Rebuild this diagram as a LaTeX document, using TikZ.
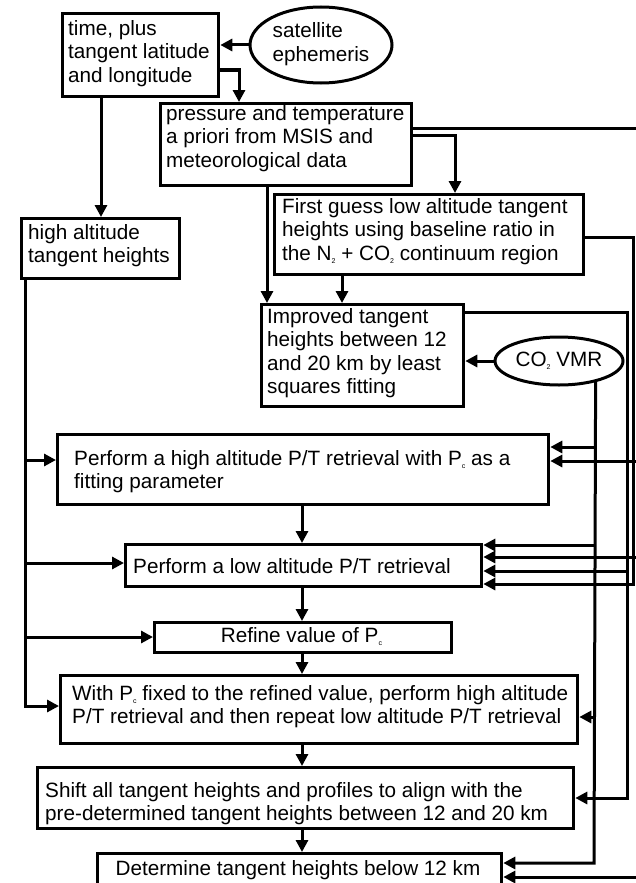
\documentclass[tikz,border=0pt]{standalone}
\usepackage{fontspec}
\setmainfont{Liberation Sans}
\usetikzlibrary{arrows.meta,shapes.geometric}
\newcommand{\flowfont}{\fontsize{20.7}{23.5}\selectfont}
\newcommand{\lowsub}[1]{\raisebox{-3pt}{\fontsize{7}{7}\selectfont #1}}
\newcommand{\lines}[1]{\begin{tabular}{@{}l@{}}#1\end{tabular}}
\tikzset{
  flowbox/.style={draw, line width=3.3pt, inner sep=0pt, anchor=north west},
  oval/.style={draw, ellipse, line width=3pt, inner sep=0pt, font=\flowfont},
  txt/.style={inner sep=0pt, font=\flowfont, anchor=north west},
  ctxt/.style={inner sep=0pt, font=\flowfont, anchor=north},
  conn/.style={line width=3pt},
  arr/.style={conn, -{Triangle[length=12pt,width=12pt]}},
}
\begin{document}
\begin{tikzpicture}[x=1pt,y=-1pt]
\path[fill=white] (0,0) rectangle (636,883);
\useasboundingbox (0,0) rectangle (636,883);

% ---------- boxes ----------
\node[flowbox, minimum width=156pt, minimum height=83pt]  (B1)  at (61,12)  {};
\node[flowbox, minimum width=251pt, minimum height=82pt]  (B2)  at (159,102) {};
\node[flowbox, minimum width=309pt, minimum height=80pt]  (B3)  at (273,193) {};
\node[flowbox, minimum width=158pt, minimum height=60pt]  (B4)  at (20,217)  {};
\node[flowbox, minimum width=202pt, minimum height=102pt] (B5)  at (260,303) {};
\node[flowbox, minimum width=491pt, minimum height=70pt]  (B6)  at (56,433)  {};
\node[flowbox, minimum width=356pt, minimum height=42pt]  (B7)  at (124,543) {};
\node[flowbox, minimum width=297pt, minimum height=30pt]  (B8)  at (153,621) {};
\node[flowbox, minimum width=517pt, minimum height=68pt]  (B9)  at (59,674)  {};
\node[flowbox, minimum width=536pt, minimum height=61pt]  (B10) at (36,766)  {};
\node[flowbox, minimum width=404pt, minimum height=50pt]  (B11) at (96,852)  {};

% ---------- ovals ----------
\node[oval, minimum width=142pt, minimum height=76pt] (E1) at (321,45) {\lines{satellite\\ephemeris}};
\node[oval, minimum width=128pt, minimum height=48pt] (E2) at (559,361) {CO\lowsub{2} VMR};

% ---------- box texts ----------
\node[txt] (T1) at (68,18.5)   {\lines{time, plus\\tangent latitude\\and longitude}};
\node[txt] (T2) at (166,103.5) {\lines{pressure and temperature\\a priori from MSIS and\\meteorological data}};
\node[txt] (T3) at (282,196.5) {\lines{First guess low altitude tangent\\heights using baseline ratio in\\the N\lowsub{2} + CO\lowsub{2} continuum region}};
\node[txt] (T4) at (28,222.5)  {\lines{high altitude\\tangent heights}};
\node[txt] (T5) at (267,306.5) {\lines{Improved tangent\\heights between 12\\and 20 km by least\\squares fitting}};
\node[txt] (T6) at (74,448.5)  {\lines{Perform a high altitude P/T retrieval with P\lowsub{c} as a\\fitting parameter}};
\node[txt] (T7) at (133,556.5) {\lines{Perform a low altitude P/T retrieval}};
\node[ctxt] (T8) at (301.5,625.5) {\lines{Refine value of P\lowsub{c}}};
\node[txt] (T9) at (72,683.5)  {\lines{With P\lowsub{c} fixed to the refined value, perform high altitude\\P/T retrieval and then repeat low altitude P/T retrieval}};
\node[txt] (T10) at (45,780.5) {\lines{Shift all tangent heights and profiles to align with the\\pre-determined tangent heights between 12 and 20 km}};
\node[ctxt] (T11) at (298,858.5) {\lines{Determine tangent heights below 12 km}};

% ---------- routing points ----------
\coordinate (c12) at (239,70);
\coordinate (c14) at (101,0);
\coordinate (c23) at (455,135);
\coordinate (c25) at (267,0);
\coordinate (c35) at (342,0);
\coordinate (cx)  at (302,0);
\coordinate (rP)  at (640,128);  \coordinate (rPb) at (640,877);
\coordinate (rF)  at (633,237);  \coordinate (rFb) at (633,584);
\coordinate (rI)  at (627,312);  \coordinate (rIb) at (627,798);
\coordinate (rCb) at (594,863);
\coordinate (rL)  at (25,706);
\coordinate (h447) at (0,447);
\coordinate (h460) at (0,460);
\coordinate (h461) at (0,461);
\coordinate (h545) at (0,545);
\coordinate (h557) at (0,557);
\coordinate (h563) at (0,563);
\coordinate (h571) at (0,571);
\coordinate (h637) at (0,637);
\coordinate (h717) at (0,717);

% ---------- top section ----------
\draw[arr] (E1.west) -- (B1.east |- E1.west);
\draw[arr] (B1.east |- c12) -| (B2.north -| c12);
\draw[arr] (B1.south -| c14) -- (B4.north -| c14);
\draw[arr] (B2.east |- c23) -| (B3.north -| c23);
\draw[arr] (B2.south -| c25) -- (B5.north -| c25);
\draw[arr] (B3.south -| c35) -- (B5.north -| c35);
\draw[arr] (E2.west) -- (B5.east |- E2.west);

% ---------- a priori rail ----------
\draw[arr] (B2.east |- rP) -- (rP) -- (rPb) -- (B11.east |- rPb);
\draw[arr] (rP |- h461) -- (B6.east |- h461);
\draw[arr] (rP |- h557) -- (B7.east |- h557);

% ---------- first guess rail ----------
\draw[arr] (B3.east |- rF) -- (rF) -- (rFb) -- (B7.east |- rFb);

% ---------- improved tangent heights rail ----------
\draw[arr] (B5.east |- rI) -- (rI) -- (rIb) -- (B10.east |- rIb);
\draw[arr] (rI |- h571) -- (B7.east |- h571);

% ---------- CO2 VMR rail ----------
\draw[arr] (E2.-30) -- (rCb) -- (B11.east |- rCb);
\draw[arr] (rCb |- h447) -- (B6.east |- h447);
\draw[arr] (rCb |- h545) -- (B7.east |- h545);
\draw[arr] (rCb |- h717) -- (B9.east |- h717);

% ---------- high altitude tangent heights rail ----------
\draw[arr] (B4.south -| rL) -- (rL) -- (B9.west |- rL);
\draw[arr] (rL |- h460) -- (B6.west |- h460);
\draw[arr] (rL |- h563) -- (B7.west |- h563);
\draw[arr] (rL |- h637) -- (B8.west |- h637);

% ---------- main retrieval chain ----------
\draw[arr] (B6.south -| cx) -- (B7.north -| cx);
\draw[arr] (B7.south -| cx) -- (B8.north -| cx);
\draw[arr] (B8.south -| cx) -- (B9.north -| cx);
\draw[arr] (B9.south -| cx) -- (B10.north -| cx);
\draw[arr] (B10.south -| cx) -- (B11.north -| cx);
\end{tikzpicture}
\end{document}
